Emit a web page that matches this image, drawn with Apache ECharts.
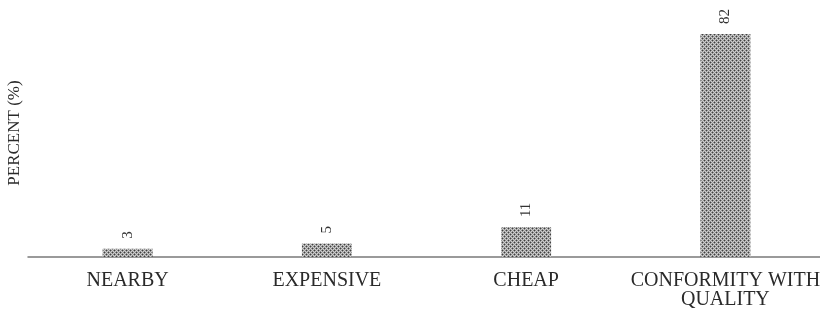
<!DOCTYPE html>
<html>
<head>
<meta charset="utf-8">
<script src="https://cdn.jsdelivr.net/npm/echarts@6/dist/echarts.min.js"></script>
<style>
html,body{margin:0;padding:0;background:#fff;}
#chart{width:820px;height:311px;}
</style>
</head>
<body>
<div id="chart"></div>
<script>
var categories = ['NEARBY', 'EXPENSIVE', 'CHEAP', 'CONFORMITY WITH\nQUALITY'];
var percents = [3, 5, 11, 82];
var yAxisTitle = 'PERCENT (%)';

function makePattern() {
  var c = document.createElement('canvas');
  c.width = 4; c.height = 4;
  var ctx = c.getContext('2d');
  ctx.fillStyle = '#cdcdcd';
  ctx.fillRect(0, 0, 4, 4);
  ctx.fillStyle = '#909090';
  ctx.fillRect(1, 0, 1, 1); ctx.fillRect(3, 0, 1, 1);
  ctx.fillRect(0, 1, 1, 1); ctx.fillRect(2, 1, 1, 1);
  ctx.fillRect(1, 2, 1, 1); ctx.fillRect(3, 2, 1, 1);
  ctx.fillRect(0, 3, 1, 1); ctx.fillRect(2, 3, 1, 1);
  ctx.fillStyle = '#404040';
  ctx.fillRect(0, 0, 1, 1); ctx.fillRect(2, 2, 1, 1);
  return c;
}

var chart = echarts.init(document.getElementById('chart'), null, {renderer: 'canvas'});
chart.setOption({
  animation: false,
  grid: {left: 28, width: 797, top: 34, bottom: 54, containLabel: false, outerBoundsMode: 'none'},
  xAxis: {
    type: 'category',
    data: categories,
    axisLine: {lineStyle: {color: '#7a7a7a', width: 1.5}},
    axisTick: {show: false},
    axisLabel: {
      interval: 0,
      margin: 14,
      fontFamily: 'Liberation Serif',
      fontSize: 20,
      lineHeight: 19,
      color: '#2a2a2a'
    }
  },
  yAxis: {
    type: 'value',
    min: 0,
    max: 82,
    show: false
  },
  graphic: [{
    type: 'text',
    x: 15,
    y: 133,
    rotation: Math.PI / 2,
    style: {
      text: yAxisTitle,
      fontFamily: 'Liberation Serif',
      fontSize: 17,
      fill: '#2a2a2a',
      textAlign: 'center',
      textVerticalAlign: 'middle'
    }
  }],
  series: [{
    type: 'bar',
    data: percents,
    barWidth: 50,
    itemStyle: {color: {image: makePattern(), repeat: 'repeat'}},
    label: {
      show: true,
      position: 'top',
      rotate: 90,
      align: 'left',
      verticalAlign: 'middle',
      distance: 10,
      fontFamily: 'Liberation Serif',
      fontSize: 15,
      color: '#333'
    }
  }]
});
</script>
</body>
</html>
